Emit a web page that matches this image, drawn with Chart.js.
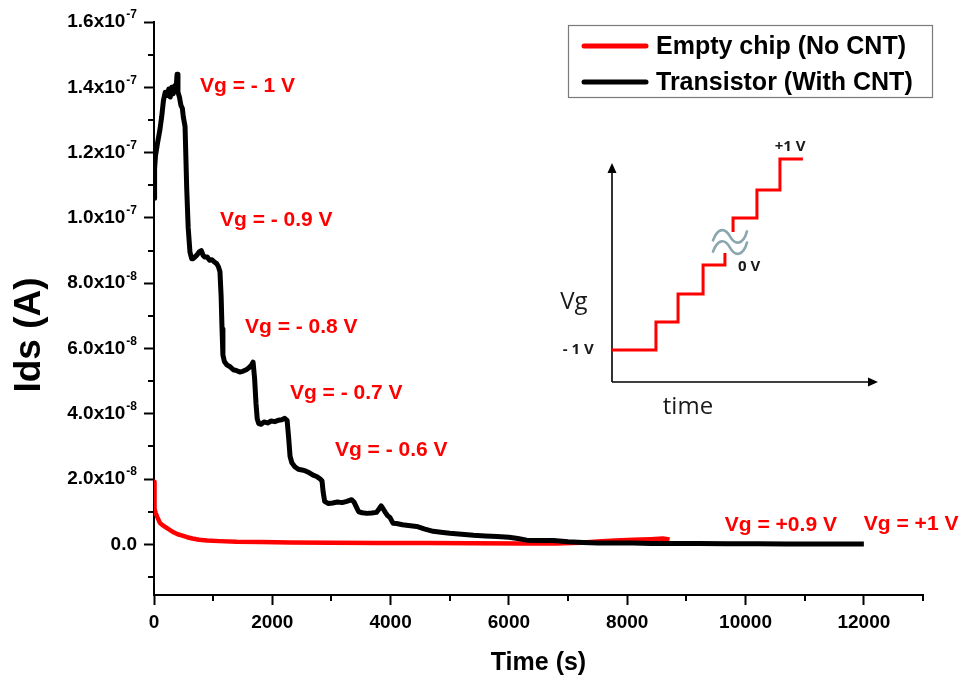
<!DOCTYPE html>
<html><head><meta charset="utf-8">
<script src="https://cdn.jsdelivr.net/npm/chart.js@4.4.1/dist/chart.umd.min.js"></script>
<style>
html,body{margin:0;padding:0;background:#fff;}
#wrap{position:relative;width:964px;height:680px;}
#wrap canvas{position:absolute;left:0;top:0;}
#inset{pointer-events:none;}
</style></head><body>
<div id="wrap"><canvas id="main" width="964" height="680"></canvas><canvas id="inset" width="964" height="680"></canvas></div>
<script>
// ---- data (time in s, current in A) ----
const transistorTime = [0,10,25,60,100,130,160,190,225,250,275,300,325,350,372,390,405,430,455,480,495,525,553,578,608,637,660,690,720,760,800,830,860,900,940,980,1020,1060,1090,1115,1135,1150,1165,1190,1230,1280,1340,1400,1450,1500,1560,1610,1650,1675,1700,1725,1745,1770,1810,1860,1920,1980,2040,2100,2160,2210,2250,2275,2300,2330,2380,2440,2500,2560,2620,2690,2750,2810,2840,2860,2885,2950,3020,3100,3180,3260,3340,3380,3420,3460,3520,3600,3680,3760,3810,3840,3870,3910,3950,3990,4040,4100,4200,4300,4440,4580,4720,4850,5000,5200,5400,5600,5800,6000,6150,6300,6500,6750,7000,7250,7500,7800,8100,8400,8800,9200,9700,10200,10700,11200,11600,12000];
const transistorIds = [10.6e-8,11.5e-8,11.9e-8,12.3e-8,12.7e-8,13.1e-8,13.6e-8,13.85e-8,13.75e-8,13.95e-8,13.7e-8,14.0e-8,13.8e-8,14.05e-8,13.9e-8,14.4e-8,13.85e-8,13.7e-8,13.45e-8,13.35e-8,13.1e-8,12.8e-8,10.9e-8,9.7e-8,8.95e-8,8.75e-8,8.75e-8,8.8e-8,8.85e-8,8.95e-8,9.0e-8,8.85e-8,8.8e-8,8.8e-8,8.7e-8,8.72e-8,8.65e-8,8.6e-8,8.5e-8,8.35e-8,7.6e-8,6.6e-8,5.8e-8,5.6e-8,5.5e-8,5.45e-8,5.35e-8,5.32e-8,5.28e-8,5.3e-8,5.35e-8,5.42e-8,5.5e-8,5.58e-8,5.1e-8,4.3e-8,3.85e-8,3.7e-8,3.68e-8,3.75e-8,3.72e-8,3.78e-8,3.76e-8,3.8e-8,3.82e-8,3.86e-8,3.8e-8,3.3e-8,2.7e-8,2.5e-8,2.38e-8,2.3e-8,2.28e-8,2.25e-8,2.2e-8,2.12e-8,2.08e-8,2.0e-8,1.95e-8,1.6e-8,1.32e-8,1.25e-8,1.27e-8,1.3e-8,1.28e-8,1.32e-8,1.37e-8,1.3e-8,1.15e-8,1.0e-8,0.97e-8,0.95e-8,0.96e-8,0.98e-8,1.1e-8,1.18e-8,1.1e-8,0.98e-8,0.88e-8,0.82e-8,0.65e-8,0.64e-8,0.6e-8,0.58e-8,0.55e-8,0.47e-8,0.4e-8,0.37e-8,0.34e-8,0.31e-8,0.28e-8,0.26e-8,0.24e-8,0.22e-8,0.18e-8,0.13e-8,0.12e-8,0.12e-8,0.08e-8,0.06e-8,0.04e-8,0.04e-8,0.04e-8,0.03e-8,0.03e-8,0.025e-8,0.02e-8,0.02e-8,0.015e-8,0.015e-8,0.01e-8,0.01e-8];
const emptyTime = [0,3,8,15,30,60,100,150,200,260,330,400,480,560,650,760,900,1100,1400,1800,2300,3000,3800,4600,5400,6200,6800,7200,7500,7800,8100,8400,8600,8716];
const emptyIds = [1.92e-8,1.6e-8,1.3e-8,1.1e-8,0.95e-8,0.82e-8,0.66e-8,0.58e-8,0.52e-8,0.45e-8,0.37e-8,0.31e-8,0.27e-8,0.22e-8,0.18e-8,0.14e-8,0.12e-8,0.1e-8,0.08e-8,0.07e-8,0.06e-8,0.05e-8,0.045e-8,0.04e-8,0.035e-8,0.03e-8,0.03e-8,0.05e-8,0.09e-8,0.12e-8,0.14e-8,0.16e-8,0.18e-8,0.15e-8];
const seriesLabels = ['Empty chip (No CNT)', 'Transistor (With CNT)'];

// annotations (text and their anchor in data units)
const annotationText = ['Vg = - 1 V','Vg = - 0.9 V','Vg = - 0.8 V','Vg = - 0.7 V','Vg = - 0.6 V','Vg = +0.9 V','Vg = +1 V'];
const annotationTime = [777,1115,1538,2298,3059,9650,12000];
const annotationIds = [1.404e-7,0.993e-7,0.666e-7,0.463e-7,0.289e-7,0.059e-7,0.062e-7];

// inset (schematic gate-voltage staircase, arbitrary units)
const stepLowX = [0,1.95,2.93,4.04,5.01];
const stepLowY = [1.14,2.14,3.14,4.18,4.61];
const stepHighX = [5.37,5.37,6.43,7.45,8.47];
const stepHighY = [5.36,5.86,6.86,7.96,7.96];
const insetLabels = ['+1 V','0 V','- 1 V'];

const FONT = "'Liberation Sans', Arial, sans-serif";
const IFONT = "'Open Sans', 'Noto Sans', sans-serif";

function pts(xs, ys){ return xs.map((x,i)=>({x:x, y:ys[i]})); }
function yLabelParts(v){
  const n = Math.round(v*1e9);
  if (n === 0) return ['0.0',''];
  if (Math.abs(n) >= 100) return [(n/100).toFixed(1)+'x10','-7'];
  return [(n/10).toFixed(1)+'x10','-8'];
}

const overlay = {
  id:'overlay',
  afterDraw(chart){
    const ctx = chart.ctx, xs = chart.scales.x, ys = chart.scales.y, ca = chart.chartArea;
    ctx.save();
    // minor ticks
    ctx.strokeStyle = '#000'; ctx.lineWidth = 2;
    ys.ticks.forEach(t=>{
      const n = Math.round(t.value*1e9);
      if (n % 20 !== 0){ const p = Math.round(ys.getPixelForValue(t.value)); ctx.beginPath(); ctx.moveTo(ca.left-6,p); ctx.lineTo(ca.left,p); ctx.stroke(); }
    });
    xs.ticks.forEach(t=>{
      if (Math.round(t.value) % 2000 !== 0){ const p = Math.round(xs.getPixelForValue(t.value)); ctx.beginPath(); ctx.moveTo(p,ca.bottom); ctx.lineTo(p,ca.bottom+6); ctx.stroke(); }
    });
    // y tick labels with superscripts
    ctx.fillStyle = '#000'; ctx.textBaseline = 'middle'; ctx.textAlign = 'left';
    ys.ticks.forEach(t=>{
      const n = Math.round(t.value*1e9);
      if (n % 20 !== 0) return;
      const parts = yLabelParts(t.value), p = ys.getPixelForValue(t.value);
      ctx.font = 'bold 19px '+FONT; const wm = ctx.measureText(parts[0]).width;
      ctx.font = 'bold 12px '+FONT; const we = parts[1] ? ctx.measureText(parts[1]).width + 1 : 0;
      const right = ca.left - 17;
      ctx.font = 'bold 19px '+FONT; ctx.fillText(parts[0], right - we - wm, p);
      if (parts[1]) { ctx.font = 'bold 12px '+FONT; ctx.fillText(parts[1], right - we + 1, p - 7); }
    });
    // axis titles
    ctx.textAlign = 'center';
    ctx.font = 'bold 25px '+FONT; ctx.fillText('Time (s)', (ca.left+ca.right)/2, 663);
    ctx.save(); ctx.translate(30, 335); ctx.rotate(-Math.PI/2);
    ctx.font = 'bold 37px '+FONT; ctx.fillText('Ids (A)', 0, 0); ctx.restore();
    // annotations
    ctx.textAlign = 'left'; ctx.fillStyle = '#ff0000'; ctx.font = 'bold 21px '+FONT;
    annotationText.forEach((s,i)=>{
      ctx.fillText(s, xs.getPixelForValue(annotationTime[i]), ys.getPixelForValue(annotationIds[i]));
    });
    // legend
    ctx.fillStyle = '#fff'; ctx.fillRect(568,25,365,73);
    ctx.strokeStyle = '#7a7a7a'; ctx.lineWidth = 1.2; ctx.strokeRect(568.5,25.5,364,72);
    const rows = [46, 82];
    chart.data.datasets.forEach((d,i)=>{
      ctx.strokeStyle = d.borderColor; ctx.lineWidth = 5; ctx.lineCap = 'round';
      ctx.beginPath(); ctx.moveTo(584, rows[i]); ctx.lineTo(646, rows[i]); ctx.stroke();
      ctx.fillStyle = '#000'; ctx.font = 'bold 25px '+FONT; ctx.textBaseline = 'middle';
      ctx.fillText(d.label, 656, rows[i]+1);
    });
    ctx.restore();
  }
};

new Chart(document.getElementById('main'), {
  type: 'line',
  data: { datasets: [
    { label: seriesLabels[0], data: pts(emptyTime, emptyIds), borderColor: '#ff0000', borderWidth: 4.5, pointRadius: 0, tension: 0, order: 1, borderJoinStyle:'round' },
    { label: seriesLabels[1], data: pts(transistorTime, transistorIds), borderColor: '#000000', borderWidth: 5, pointRadius: 0, tension: 0, order: 0, borderJoinStyle:'round' }
  ]},
  options: {
    responsive: false, animation: false, devicePixelRatio: 1, events: [],
    layout: { padding: { left: 0, right: 41, top: 22, bottom: 0 } },
    plugins: { legend: { display: false }, tooltip: { enabled: false } },
    scales: {
      x: {
        type: 'linear', min: 0, max: 13000,
        afterFit: s => { s.height = 85; },
        border: { display: true, color: '#000', width: 2 },
        grid: { drawOnChartArea: false, drawTicks: true, tickLength: 10, tickWidth: 2,
                tickColor: c => (Math.round(c.tick.value) % 2000 === 0 ? '#000' : 'rgba(0,0,0,0)') },
        ticks: { stepSize: 1000, autoSkip: false, maxRotation: 0, includeBounds: false, padding: 6, color: '#000',
                 font: { family: FONT, weight: 'bold', size: 19 },
                 callback: v => (Math.round(v) % 2000 === 0 ? String(Math.round(v)) : '') }
      },
      y: {
        type: 'linear', min: -1.55e-8, max: 1.6e-7,
        afterFit: s => { s.width = 154; },
        border: { display: true, color: '#000', width: 2 },
        grid: { drawOnChartArea: false, drawTicks: true, tickLength: 10, tickWidth: 2,
                tickColor: c => (Math.round(c.tick.value*1e9) % 20 === 0 ? '#000' : 'rgba(0,0,0,0)') },
        ticks: { stepSize: 1e-8, includeBounds: false, display: false }
      }
    }
  },
  plugins: [overlay]
});

// ---- inset schematic ----
const insetDecor = {
  id: 'insetDecor',
  beforeDatasetsDraw(chart){
    const ctx = chart.ctx, xs = chart.scales.x, ys = chart.scales.y;
    const x0 = xs.getPixelForValue(0), y0 = ys.getPixelForValue(0);
    const yt = ys.getPixelForValue(7.82), xt = xs.getPixelForValue(11.8);
    ctx.save();
    ctx.strokeStyle = '#000'; ctx.fillStyle = '#000'; ctx.lineWidth = 1.6;
    ctx.beginPath(); ctx.moveTo(x0, y0); ctx.lineTo(x0, yt + 6); ctx.stroke();
    ctx.beginPath(); ctx.moveTo(x0, y0); ctx.lineTo(xt - 6, y0); ctx.stroke();
    ctx.beginPath(); ctx.moveTo(x0, yt); ctx.lineTo(x0 - 4.5, yt + 10); ctx.lineTo(x0 + 4.5, yt + 10); ctx.closePath(); ctx.fill();
    ctx.beginPath(); ctx.moveTo(xt, y0); ctx.lineTo(xt - 10, y0 - 4.5); ctx.lineTo(xt - 10, y0 + 4.5); ctx.closePath(); ctx.fill();
    ctx.restore();
  },
  afterDatasetsDraw(chart){
    const ctx = chart.ctx, xs = chart.scales.x, ys = chart.scales.y;
    ctx.save();
    // break symbol
    ctx.strokeStyle = '#8aa6ae'; ctx.lineWidth = 2.6; ctx.lineCap = 'round';
    const wx = xs.getPixelForValue(4.48);
    [5.2, 4.8].forEach(v=>{
      const yc = ys.getPixelForValue(v);
      ctx.beginPath(); ctx.moveTo(wx, yc+4);
      ctx.bezierCurveTo(wx+5, yc-9, wx+12, yc-9, wx+17, yc);
      ctx.bezierCurveTo(wx+22, yc+9, wx+30, yc+9, wx+34, yc-5);
      ctx.stroke();
    });
    // labels
    ctx.fillStyle = '#1a1a1a'; ctx.textAlign = 'center'; ctx.textBaseline = 'middle';
    ctx.font = 'bold 15px '+IFONT;
    ctx.fillText(insetLabels[0], xs.getPixelForValue(7.9), ys.getPixelForValue(8.39));
    ctx.fillText(insetLabels[1], xs.getPixelForValue(6.08), ys.getPixelForValue(4.11));
    ctx.fillText(insetLabels[2], xs.getPixelForValue(-1.5), ys.getPixelForValue(1.14));
    ctx.font = '24px '+IFONT;
    ctx.fillText('Vg', xs.getPixelForValue(-1.69), ys.getPixelForValue(2.86));
    ctx.fillText('time', xs.getPixelForValue(3.37), ys.getPixelForValue(-0.89));
    ctx.restore();
  }
};

new Chart(document.getElementById('inset'), {
  type: 'line',
  data: { datasets: [
    { data: pts(stepLowX, stepLowY), stepped: 'before', borderColor: '#ff0000', borderWidth: 3, pointRadius: 0, clip: false },
    { data: pts(stepHighX, stepHighY), stepped: 'before', borderColor: '#ff0000', borderWidth: 3, pointRadius: 0, clip: false }
  ]},
  options: {
    responsive: false, animation: false, devicePixelRatio: 1, events: [],
    layout: { padding: { left: 612, right: 86, top: 158, bottom: 298 } },
    plugins: { legend: { display: false }, tooltip: { enabled: false } },
    scales: { x: { type: 'linear', min: 0, max: 11.8, display: false }, y: { type: 'linear', min: 0, max: 8, display: false } }
  },
  plugins: [insetDecor]
});
</script>
</body></html>
